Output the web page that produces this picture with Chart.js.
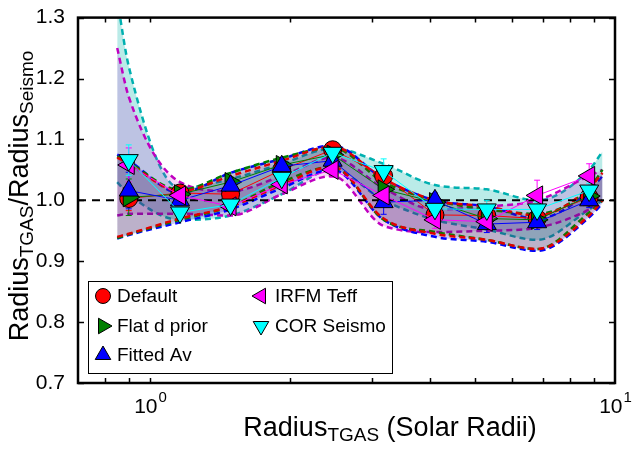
<!DOCTYPE html>
<html>
<head>
<meta charset="utf-8">
<script src="https://cdn.jsdelivr.net/npm/chart.js@4"></script>
<style>
  html, body { margin: 0; padding: 0; background: #fff; }
  #wrap { width: 632px; height: 457px; }
</style>
</head>
<body>
<div id="wrap"><canvas id="chart"></canvas></div>
<script>
// bin centres, Radius_TGAS in solar radii
const binRadius = [0.9, 1.16, 1.49, 1.92, 2.47, 3.18, 4.1, 5.3, 6.8, 8.8];

const seriesNames = ["Default", "Flat d prior", "Fitted Av", "IRFM Teff", "COR Seismo"];

// ratio Radius_TGAS / Radius_Seismo per bin
const ratioDefault  = [1.003, 1.012, 1.010, 1.050, 1.083, 1.040, 0.976, 0.975, 0.970, 1.005];
const ratioFlatD    = [1.005, 1.010, 1.030, 1.058, 1.075, 1.018, 0.997, 0.970, 0.968, 1.007];
const ratioFittedAv = [1.016, 1.000, 1.024, 1.056, 1.065, 0.997, 1.000, 0.961, 0.964, 1.000];
const ratioIrfm     = [1.058, 1.008, 0.990, 1.026, 1.050, 1.008, 0.968, 0.965, 1.008, 1.040];
const ratioCor      = [1.066, 0.980, 0.993, 1.037, 1.078, 1.048, 0.986, 0.985, 0.985, 1.016];

// error on each bin value
const errDefault  = [0.020, 0.008, 0.008, 0.008, 0.008, 0.015, 0.012, 0.012, 0.012, 0.012];
const errFlatD    = [0.030, 0.008, 0.008, 0.008, 0.008, 0.015, 0.012, 0.014, 0.012, 0.012];
const errFittedAv = [0.030, 0.008, 0.008, 0.008, 0.008, 0.020, 0.012, 0.014, 0.012, 0.012];
const errIrfm     = [0.028, 0.008, 0.008, 0.008, 0.012, 0.015, 0.014, 0.012, 0.025, 0.020];
const errCor      = [0.025, 0.008, 0.008, 0.008, 0.008, 0.020, 0.015, 0.015, 0.012, 0.012];

// spread envelopes (dashed bands)
const bandRadius = [0.85, 0.9, 1.16, 1.49, 1.92, 2.47, 3.18, 4.1, 5.3, 6.8, 8.8, 9.4];
const bandHiDefault  = [1.070, 1.060, 1.015, 1.040, 1.065, 1.088, 1.035, 1.000, 0.990, 0.975, 1.020, 1.045];
const bandLoDefault  = [0.940, 0.945, 0.970, 0.990, 1.025, 1.055, 0.970, 0.945, 0.935, 0.920, 0.975, 1.000];
const bandHiFlatD    = [1.072, 1.062, 1.017, 1.045, 1.070, 1.086, 1.030, 1.000, 0.985, 0.978, 1.020, 1.050];
const bandLoFlatD    = [0.938, 0.944, 0.968, 0.990, 1.030, 1.055, 0.968, 0.948, 0.935, 0.920, 0.980, 1.000];
const bandHiFittedAv = [1.075, 1.065, 1.012, 1.045, 1.068, 1.090, 1.035, 1.000, 0.990, 0.970, 1.015, 1.040];
const bandLoFittedAv = [0.937, 0.943, 0.964, 0.985, 1.020, 1.050, 0.968, 0.940, 0.932, 0.917, 0.972, 0.995];
const bandHiIrfm     = [1.250, 1.170, 1.030, 1.015, 1.040, 1.070, 1.020, 0.985, 0.990, 1.000, 1.040, 1.050];
const bandLoIrfm     = [0.975, 0.978, 0.978, 0.975, 1.010, 1.040, 0.958, 0.948, 0.950, 0.955, 0.985, 1.000];
const bandHiCor      = [1.330, 1.220, 1.020, 1.035, 1.060, 1.085, 1.060, 1.025, 1.018, 1.000, 1.050, 1.080];
const bandLoCor      = [1.030, 1.010, 0.968, 0.975, 1.010, 1.050, 1.000, 0.968, 0.952, 0.935, 0.985, 1.000];

const yTicks = [0.7, 0.8, 0.9, 1.0, 1.1, 1.2, 1.3];

const series = [
  { name: seriesNames[0], y: ratioDefault,  err: errDefault,  hi: bandHiDefault,  lo: bandLoDefault,
    color: "#ff0000", edge: "#e00000", fillc: "rgba(220,0,0,0.10)",   style: "circle",   rot: 0,   r: 9,  order: 5 },
  { name: seriesNames[1], y: ratioFlatD,    err: errFlatD,    hi: bandHiFlatD,    lo: bandLoFlatD,
    color: "#008000", edge: "#008000", fillc: "rgba(0,128,0,0.10)",   style: "triangle", rot: 90,  r: 11, order: 4 },
  { name: seriesNames[2], y: ratioFittedAv, err: errFittedAv, hi: bandHiFittedAv, lo: bandLoFittedAv,
    color: "#0000ff", edge: "#0000ff", fillc: "rgba(0,0,230,0.20)",   style: "triangle", rot: 0,   r: 11, order: 3 },
  { name: seriesNames[3], y: ratioIrfm,     err: errIrfm,     hi: bandHiIrfm,     lo: bandLoIrfm,
    color: "#ff00ff", edge: "#c000c0", fillc: "rgba(200,0,200,0.17)", style: "triangle", rot: 270, r: 11, order: 2 },
  { name: seriesNames[4], y: ratioCor,      err: errCor,      hi: bandHiCor,      lo: bandLoCor,
    color: "#00ffff", edge: "#00b0b0", fillc: "rgba(0,180,170,0.27)", style: "triangle", rot: 180, r: 11, order: 1 }
];

const datasets = [];
series.forEach(s => {
  datasets.push({
    data: bandRadius.map((x, k) => ({ x: x, y: s.hi[k] })),
    showLine: true, borderColor: s.edge, borderWidth: 2.5, borderDash: [6, 4],
    pointRadius: 0, fill: false, cubicInterpolationMode: "monotone", order: 10
  });
  datasets.push({
    data: bandRadius.map((x, k) => ({ x: x, y: s.lo[k] })),
    showLine: true, borderColor: s.edge, borderWidth: 2.5, borderDash: [6, 4],
    pointRadius: 0, fill: "-1", backgroundColor: s.fillc,
    cubicInterpolationMode: "monotone", order: 10
  });
});
datasets.push({
  data: [{ x: 0.7, y: 1 }, { x: 10, y: 1 }],
  showLine: true, borderColor: "#000", borderWidth: 2, borderDash: [8, 6],
  pointRadius: 0, fill: false, order: 8
});
series.forEach(s => {
  datasets.push({
    data: binRadius.map((x, k) => ({ x: x, y: s.y[k] })),
    showLine: true, borderColor: s.color, borderWidth: 1, fill: false,
    pointStyle: s.style, rotation: s.rot, pointRadius: s.r,
    pointBackgroundColor: s.color, pointBorderColor: "#000", pointBorderWidth: 1,
    order: s.order
  });
});

const FONT = "'Liberation Sans', Arial, Helvetica, sans-serif";

function drawMixed(ctx, parts, cx, cy, size, subSize) {
  let w = 0;
  parts.forEach(p => {
    ctx.font = (p[1] ? subSize : size) + "px " + FONT;
    w += ctx.measureText(p[0]).width;
  });
  let x = cx - w / 2;
  parts.forEach(p => {
    ctx.font = (p[1] ? subSize : size) + "px " + FONT;
    ctx.fillText(p[0], x, cy + (p[1] ? size * 0.2 : 0));
    x += ctx.measureText(p[0]).width;
  });
}

function marker(ctx, style, rot, x, y, r, color) {
  ctx.save();
  ctx.fillStyle = color;
  ctx.strokeStyle = "#000";
  ctx.lineWidth = 1;
  ctx.translate(x, y);
  ctx.rotate(rot * Math.PI / 180);
  ctx.beginPath();
  if (style === "circle") {
    ctx.arc(0, 0, r, 0, Math.PI * 2);
  } else {
    ctx.moveTo(0, -r);
    ctx.lineTo(r * 0.866, r * 0.5);
    ctx.lineTo(-r * 0.866, r * 0.5);
    ctx.closePath();
  }
  ctx.fill();
  ctx.stroke();
  ctx.restore();
}

const errorBars = {
  id: "errorBars",
  beforeDatasetDraw(chart, args) {
    if (args.index !== datasets.length - 5) return; // first marker set (Default)
    const ctx = chart.ctx, xs = chart.scales.x, ys = chart.scales.y;
    ctx.save();
    ctx.lineWidth = 1;
    series.forEach(s => {
      ctx.strokeStyle = s.color;
      binRadius.forEach((x, k) => {
        const px = xs.getPixelForValue(x);
        const a = ys.getPixelForValue(s.y[k] + s.err[k]);
        const b = ys.getPixelForValue(s.y[k] - s.err[k]);
        ctx.beginPath();
        ctx.moveTo(px, a); ctx.lineTo(px, b);
        ctx.moveTo(px - 3, a); ctx.lineTo(px + 3, a);
        ctx.moveTo(px - 3, b); ctx.lineTo(px + 3, b);
        ctx.stroke();
      });
    });
    ctx.restore();
  }
};

const frame = {
  id: "frame",
  afterDraw(chart) {
    const ctx = chart.ctx, a = chart.chartArea, xs = chart.scales.x, ys = chart.scales.y;
    ctx.save();
    ctx.strokeStyle = "#000";
    ctx.lineWidth = 1.5;
    // ticks
    ctx.beginPath();
    yTicks.forEach(v => {
      const py = Math.round(ys.getPixelForValue(v)) + 0.5;
      ctx.moveTo(a.left, py); ctx.lineTo(a.left + 6, py);
      ctx.moveTo(a.right, py); ctx.lineTo(a.right - 6, py);
    });
    [0.8, 0.9, 1, 2, 3, 4, 5, 6, 7, 8, 9].forEach(v => {
      const px = Math.round(xs.getPixelForValue(v)) + 0.5;
      ctx.moveTo(px, a.bottom); ctx.lineTo(px, a.bottom - 5);
      ctx.moveTo(px, a.top); ctx.lineTo(px, a.top + 5);
    });
    ctx.stroke();
    ctx.lineWidth = 2.5;
    ctx.strokeRect(a.left, a.top, a.right - a.left, a.bottom - a.top);

    // x tick labels 10^0, 10^1
    ctx.fillStyle = "#000";
    ctx.textBaseline = "alphabetic";
    ctx.textAlign = "left";
    [[1, "0"], [10, "1"]].forEach(t => {
      const px = xs.getPixelForValue(t[0]);
      ctx.font = "21px " + FONT;
      const w1 = ctx.measureText("10").width;
      ctx.font = "15px " + FONT;
      const w2 = ctx.measureText(t[1]).width;
      const x0 = px - (w1 + w2) / 2;
      ctx.font = "21px " + FONT;
      ctx.fillText("10", x0, 413);
      ctx.font = "15px " + FONT;
      ctx.fillText(t[1], x0 + w1 + 1, 402);
    });

    // axis titles
    drawMixed(ctx, [["Radius", false], ["TGAS", true], [" (Solar Radii)", false]], 390, 436, 27, 19);
    ctx.save();
    ctx.translate(28, 196);
    ctx.rotate(-Math.PI / 2);
    drawMixed(ctx, [["Radius", false], ["TGAS", true], ["/Radius", false], ["Seismo", true]], 0, 0, 27, 19);
    ctx.restore();

    // legend
    ctx.fillStyle = "#fff";
    ctx.fillRect(88, 281, 304, 92);
    ctx.lineWidth = 1;
    ctx.strokeStyle = "#000";
    ctx.strokeRect(88.5, 281.5, 304, 92);
    const slots = [[103, 296], [103, 326], [103, 355], [261, 296], [261, 326]];
    series.forEach((s, i) => {
      const sl = slots[i];
      marker(ctx, s.style, s.rot, sl[0], sl[1], s.style === "circle" ? 7.5 : 9, s.color);
      ctx.fillStyle = "#000";
      ctx.font = "19px " + FONT;
      ctx.textBaseline = "middle";
      ctx.fillText(s.name, sl[0] + 14, sl[1] + 1);
    });
    ctx.restore();
  }
};

new Chart(document.getElementById("chart"), {
  type: "scatter",
  data: { datasets: datasets },
  options: {
    responsive: true,
    maintainAspectRatio: false,
    animation: false,
    layout: { padding: { left: 0, top: 12, right: 17, bottom: 0 } },
    plugins: { legend: { display: false }, tooltip: { enabled: false } },
    scales: {
      x: {
        type: "logarithmic", min: 0.7, max: 10,
        grid: { display: false }, border: { display: false },
        ticks: { display: false },
        afterFit: s => { s.height = 74; }
      },
      y: {
        min: 0.7, max: 1.3,
        grid: { display: false }, border: { display: false },
        ticks: {
          stepSize: 0.1, padding: 5, color: "#000",
          font: { size: 21, family: FONT },
          callback: v => v.toFixed(1)
        },
        afterFit: s => { s.width = 78; }
      }
    }
  },
  plugins: [errorBars, frame]
});
</script>
</body>
</html>
